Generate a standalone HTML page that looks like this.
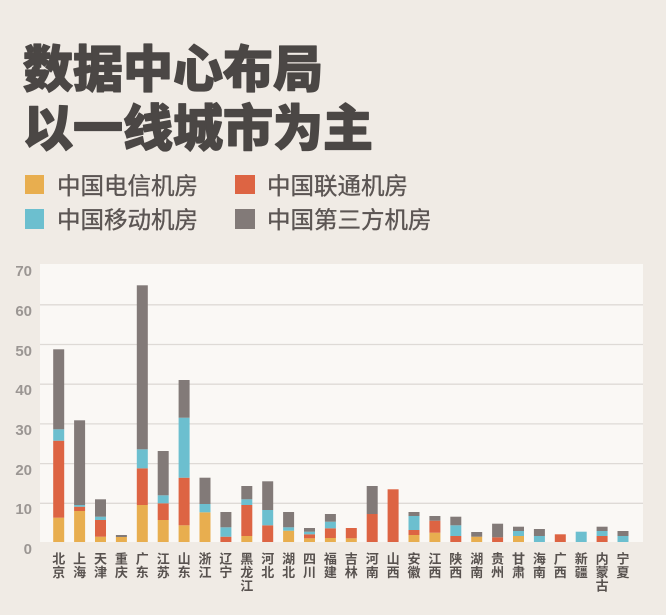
<!DOCTYPE html>
<html><head><meta charset="utf-8"><style>
html,body{margin:0;padding:0;background:#f0ebe5;}
svg{display:block;}
.t{font-family:"Liberation Sans","Noto Sans CJK SC",sans-serif;}
</style></head><body>
<svg width="666" height="615" viewBox="0 0 666 615" xmlns="http://www.w3.org/2000/svg">
<rect x="0" y="0" width="666" height="615" fill="#f0ebe5"/>
<!-- Title -->
<text x="23" y="87" font-size="50" font-weight="900" fill="#4b4745" stroke="#4b4745" stroke-width="1.3" stroke-linejoin="round" font-family="'Noto Sans CJK SC',sans-serif">数据中心布局</text>
<text x="23" y="146" font-size="50" font-weight="900" fill="#4b4745" stroke="#4b4745" stroke-width="1.3" stroke-linejoin="round" font-family="'Noto Sans CJK SC',sans-serif">以一线城市为主</text>
<!-- Legend -->
<rect x="25" y="175" width="19" height="19" fill="#e8ae4f"/>
<text class="t" x="57" y="194" font-size="23.5" fill="#5b5553" stroke="#5b5553" stroke-width="0.35">中国电信机房</text>
<rect x="235" y="175" width="20" height="19" fill="#dd6443"/>
<text class="t" x="267" y="194" font-size="23.5" fill="#5b5553" stroke="#5b5553" stroke-width="0.35">中国联通机房</text>
<rect x="25" y="209" width="19" height="20" fill="#6cbfcf"/>
<text class="t" x="57" y="228" font-size="23.5" fill="#5b5553" stroke="#5b5553" stroke-width="0.35">中国移动机房</text>
<rect x="235" y="209" width="20" height="20" fill="#827a78"/>
<text class="t" x="267" y="228" font-size="23.5" fill="#5b5553" stroke="#5b5553" stroke-width="0.35">中国第三方机房</text>
<!-- Plot area -->
<rect x="40" y="264" width="603" height="278" fill="#faf8f5"/>
<g stroke="#dedad6" stroke-width="1.3">
<line x1="40" y1="304.8" x2="643" y2="304.8"/>
<line x1="40" y1="344.5" x2="643" y2="344.5"/>
<line x1="40" y1="384.2" x2="643" y2="384.2"/>
<line x1="40" y1="423.9" x2="643" y2="423.9"/>
<line x1="40" y1="463.6" x2="643" y2="463.6"/>
<line x1="40" y1="503.3" x2="643" y2="503.3"/>
</g>
<!-- Y labels -->
<g class="t" font-size="15" font-weight="700" fill="#9b9693" text-anchor="end">
<text x="32" y="276">70</text>
<text x="32" y="316">60</text>
<text x="32" y="356">50</text>
<text x="32" y="395">40</text>
<text x="32" y="435">30</text>
<text x="32" y="475">20</text>
<text x="32" y="514">10</text>
<text x="32" y="554">0</text>
</g>
<!-- Bars -->
<g>
<rect x="53.2" y="517.7" width="11" height="24.3" fill="#e8ae4f"/>
<rect x="53.2" y="440.7" width="11" height="77" fill="#dd6443"/>
<rect x="53.2" y="429.3" width="11" height="11.4" fill="#6cbfcf"/>
<rect x="53.2" y="349.3" width="11" height="80" fill="#827a78"/>
<rect x="74.1" y="511" width="11" height="31" fill="#e8ae4f"/>
<rect x="74.1" y="506.7" width="11" height="4.3" fill="#dd6443"/>
<rect x="74.1" y="505" width="11" height="1.7" fill="#6cbfcf"/>
<rect x="74.1" y="420.3" width="11" height="84.7" fill="#827a78"/>
<rect x="95" y="536.7" width="11" height="5.3" fill="#e8ae4f"/>
<rect x="95" y="520" width="11" height="16.7" fill="#dd6443"/>
<rect x="95" y="516.7" width="11" height="3.3" fill="#6cbfcf"/>
<rect x="95" y="499.3" width="11" height="17.4" fill="#827a78"/>
<rect x="115.9" y="537" width="11" height="5" fill="#e8ae4f"/>
<rect x="115.9" y="535" width="11" height="2" fill="#827a78"/>
<rect x="136.8" y="505" width="11" height="37" fill="#e8ae4f"/>
<rect x="136.8" y="468.3" width="11" height="36.7" fill="#dd6443"/>
<rect x="136.8" y="449.3" width="11" height="19" fill="#6cbfcf"/>
<rect x="136.8" y="285.3" width="11" height="164" fill="#827a78"/>
<rect x="157.7" y="520" width="11" height="22" fill="#e8ae4f"/>
<rect x="157.7" y="503.3" width="11" height="16.7" fill="#dd6443"/>
<rect x="157.7" y="495.3" width="11" height="8" fill="#6cbfcf"/>
<rect x="157.7" y="451" width="11" height="44.3" fill="#827a78"/>
<rect x="178.6" y="525.3" width="11" height="16.7" fill="#e8ae4f"/>
<rect x="178.6" y="477.7" width="11" height="47.6" fill="#dd6443"/>
<rect x="178.6" y="417.7" width="11" height="60" fill="#6cbfcf"/>
<rect x="178.6" y="380" width="11" height="37.7" fill="#827a78"/>
<rect x="199.5" y="512.3" width="11" height="29.7" fill="#e8ae4f"/>
<rect x="199.5" y="504" width="11" height="8.3" fill="#6cbfcf"/>
<rect x="199.5" y="477.7" width="11" height="26.3" fill="#827a78"/>
<rect x="220.4" y="536.7" width="11" height="5.3" fill="#dd6443"/>
<rect x="220.4" y="527.3" width="11" height="9.4" fill="#6cbfcf"/>
<rect x="220.4" y="512" width="11" height="15.3" fill="#827a78"/>
<rect x="241.3" y="536" width="11" height="6" fill="#e8ae4f"/>
<rect x="241.3" y="505" width="11" height="31" fill="#dd6443"/>
<rect x="241.3" y="499.3" width="11" height="5.7" fill="#6cbfcf"/>
<rect x="241.3" y="486" width="11" height="13.3" fill="#827a78"/>
<rect x="262.2" y="525.3" width="11" height="16.7" fill="#dd6443"/>
<rect x="262.2" y="510" width="11" height="15.3" fill="#6cbfcf"/>
<rect x="262.2" y="481.3" width="11" height="28.7" fill="#827a78"/>
<rect x="283.1" y="530.7" width="11" height="11.3" fill="#e8ae4f"/>
<rect x="283.1" y="527.3" width="11" height="3.4" fill="#6cbfcf"/>
<rect x="283.1" y="512" width="11" height="15.3" fill="#827a78"/>
<rect x="304" y="538.3" width="11" height="3.7" fill="#e8ae4f"/>
<rect x="304" y="534.3" width="11" height="4" fill="#dd6443"/>
<rect x="304" y="531.7" width="11" height="2.6" fill="#6cbfcf"/>
<rect x="304" y="528" width="11" height="3.7" fill="#827a78"/>
<rect x="324.9" y="538" width="11" height="4" fill="#e8ae4f"/>
<rect x="324.9" y="528.3" width="11" height="9.7" fill="#dd6443"/>
<rect x="324.9" y="521.7" width="11" height="6.6" fill="#6cbfcf"/>
<rect x="324.9" y="514" width="11" height="7.7" fill="#827a78"/>
<rect x="345.8" y="538.3" width="11" height="3.7" fill="#e8ae4f"/>
<rect x="345.8" y="528" width="11" height="10.3" fill="#dd6443"/>
<rect x="366.7" y="514" width="11" height="28" fill="#dd6443"/>
<rect x="366.7" y="486" width="11" height="28" fill="#827a78"/>
<rect x="387.6" y="489.3" width="11" height="52.7" fill="#dd6443"/>
<rect x="408.5" y="535" width="11" height="7" fill="#e8ae4f"/>
<rect x="408.5" y="530" width="11" height="5" fill="#dd6443"/>
<rect x="408.5" y="516" width="11" height="14" fill="#6cbfcf"/>
<rect x="408.5" y="512" width="11" height="4" fill="#827a78"/>
<rect x="429.4" y="532.7" width="11" height="9.3" fill="#e8ae4f"/>
<rect x="429.4" y="520.7" width="11" height="12" fill="#dd6443"/>
<rect x="429.4" y="516" width="11" height="4.7" fill="#827a78"/>
<rect x="450.3" y="536" width="11" height="6" fill="#dd6443"/>
<rect x="450.3" y="525.3" width="11" height="10.7" fill="#6cbfcf"/>
<rect x="450.3" y="516.7" width="11" height="8.6" fill="#827a78"/>
<rect x="471.2" y="536.7" width="11" height="5.3" fill="#e8ae4f"/>
<rect x="471.2" y="532" width="11" height="4.7" fill="#827a78"/>
<rect x="492.1" y="537.3" width="11" height="4.7" fill="#dd6443"/>
<rect x="492.1" y="523.7" width="11" height="13.6" fill="#827a78"/>
<rect x="513" y="536" width="11" height="6" fill="#e8ae4f"/>
<rect x="513" y="531" width="11" height="5" fill="#6cbfcf"/>
<rect x="513" y="526.7" width="11" height="4.3" fill="#827a78"/>
<rect x="533.9" y="536" width="11" height="6" fill="#6cbfcf"/>
<rect x="533.9" y="529" width="11" height="7" fill="#827a78"/>
<rect x="554.8" y="534.3" width="11" height="7.7" fill="#dd6443"/>
<rect x="575.7" y="531.7" width="11" height="10.3" fill="#6cbfcf"/>
<rect x="596.6" y="536" width="11" height="6" fill="#dd6443"/>
<rect x="596.6" y="531" width="11" height="5" fill="#6cbfcf"/>
<rect x="596.6" y="526.7" width="11" height="4.3" fill="#827a78"/>
<rect x="617.5" y="536" width="11" height="6" fill="#6cbfcf"/>
<rect x="617.5" y="531" width="11" height="5" fill="#827a78"/>
</g>
<!-- X labels -->
<g class="t" font-size="13" font-weight="700" fill="#58524f" text-anchor="middle">
<text x="58.7" y="563.5">北</text><text x="58.7" y="577">京</text>
<text x="79.6" y="563.5">上</text><text x="79.6" y="577">海</text>
<text x="100.5" y="563.5">天</text><text x="100.5" y="577">津</text>
<text x="121.4" y="563.5">重</text><text x="121.4" y="577">庆</text>
<text x="142.3" y="563.5">广</text><text x="142.3" y="577">东</text>
<text x="163.2" y="563.5">江</text><text x="163.2" y="577">苏</text>
<text x="184.1" y="563.5">山</text><text x="184.1" y="577">东</text>
<text x="205" y="563.5">浙</text><text x="205" y="577">江</text>
<text x="225.9" y="563.5">辽</text><text x="225.9" y="577">宁</text>
<text x="246.8" y="563.5">黑</text><text x="246.8" y="577">龙</text><text x="246.8" y="590.7">江</text>
<text x="267.7" y="563.5">河</text><text x="267.7" y="577">北</text>
<text x="288.6" y="563.5">湖</text><text x="288.6" y="577">北</text>
<text x="309.5" y="563.5">四</text><text x="309.5" y="577">川</text>
<text x="330.4" y="563.5">福</text><text x="330.4" y="577">建</text>
<text x="351.3" y="563.5">吉</text><text x="351.3" y="577">林</text>
<text x="372.2" y="563.5">河</text><text x="372.2" y="577">南</text>
<text x="393.1" y="563.5">山</text><text x="393.1" y="577">西</text>
<text x="414" y="563.5">安</text><text x="414" y="577">徽</text>
<text x="434.9" y="563.5">江</text><text x="434.9" y="577">西</text>
<text x="455.8" y="563.5">陕</text><text x="455.8" y="577">西</text>
<text x="476.7" y="563.5">湖</text><text x="476.7" y="577">南</text>
<text x="497.6" y="563.5">贵</text><text x="497.6" y="577">州</text>
<text x="518.5" y="563.5">甘</text><text x="518.5" y="577">肃</text>
<text x="539.4" y="563.5">海</text><text x="539.4" y="577">南</text>
<text x="560.3" y="563.5">广</text><text x="560.3" y="577">西</text>
<text x="581.2" y="563.5">新</text><text x="581.2" y="577">疆</text>
<text x="602.1" y="563.5">内</text><text x="602.1" y="577">蒙</text><text x="602.1" y="590.7">古</text>
<text x="623" y="563.5">宁</text><text x="623" y="577">夏</text>
</g>
</svg>
</body></html>
